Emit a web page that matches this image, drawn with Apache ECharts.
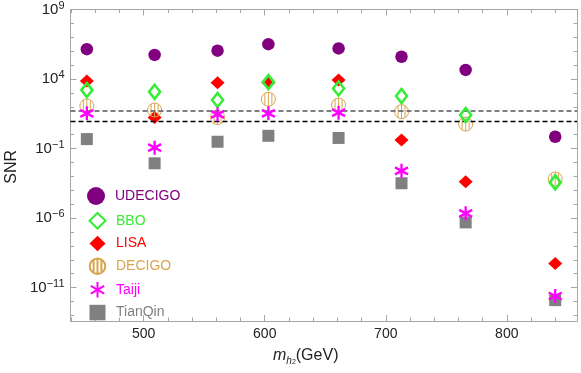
<!DOCTYPE html>
<html><head><meta charset="utf-8">
<script src="https://cdn.jsdelivr.net/npm/echarts@6/dist/echarts.min.js"></script>
<style>html,body{margin:0;padding:0;background:#fff}#c{width:581px;height:373px}</style>
</head><body><div id="c"></div>
<script>
// ---- data ----
const masses = [453, 509, 561, 603, 661, 713, 766, 840];
const UDECIGO = [1.4e6, 5.4e5, 1.1e6, 3.2e6, 1.6e6, 4.0e5, 4.5e4, 0.71];
const BBO     = [1.6e3, 1.2e3, 310, 6.0e3, 2.1e3, 600, 26, 3.7e-4];
const LISA    = [7.2e3, 17, 5.4e3, 5.4e3, 8.5e3, 0.41, 4.1e-4, 5.5e-10];
const DECIGO  = [115, 59, 17, 350, 135, 45, 5.8, 6.5e-4];
const Taiji   = [34, 0.115, 29, 34, 38, 2.5e-3, 2.2e-6, 2.5e-12];
const TianQin = [0.48, 8.7e-3, 0.31, 0.83, 0.58, 3.2e-4, 4.9e-7, 1.26e-12];
const thresholds = [50, 10];
const xTickLabels = [500, 600, 700, 800];
const yTickLabels = [1e-11, 1e-6, 1e-1, 1e4, 1e9];

const xMinor = [];
for (let v = 440; v <= 850; v += 20) if (xTickLabels.indexOf(v) < 0) xMinor.push(v);
const yMinor = [];
for (let e = -13; e <= 8; e++) if ([-11, -6, -1, 4, 9].indexOf(e) < 0) yMinor.push(Math.pow(10, e));

const frame = '#a6a6a6';
const C = {U: '#800080', B: '#33ee33', L: '#ff0000', D: '#d8a54e', T: '#ff00ff', Q: '#808080'};
const pts = arr => masses.map((m, i) => [m, arr[i]]);

const decigoPath = 'path://M0,-1A1,1 0 1,1 0,1A1,1 0 1,1 0,-1Z M-0.5,-0.866L-0.5,0.866 M0,-1L0,1 M0.5,-0.866L0.5,0.866';
const starPath = 'path://M0,-1L0,1M-0.866,-0.5L0.866,0.5M-0.866,0.5L0.866,-0.5';

const xRange = {min: 439.5, max: 858};
const yRange = {min: Math.pow(10, -13.4), max: 1e9};
function xAx(pos, custom, len, labels, line) {
  return Object.assign({type: 'value', position: pos, gridIndex: 0,
    axisLine: {show: line, onZero: false, lineStyle: {color: frame, width: 1}},
    axisTick: {show: true, inside: true, length: len, customValues: custom, lineStyle: {color: frame}},
    axisLabel: labels ? {show: true, customValues: custom, fontSize: 14, color: '#222', margin: 6, fontFamily: 'Liberation Sans'} : {show: false},
    splitLine: {show: false}}, xRange);
}
function yAx(pos, custom, len, labels, line) {
  return Object.assign({type: 'log', logBase: 10, position: pos, gridIndex: 0,
    axisLine: {show: line, onZero: false, lineStyle: {color: frame, width: 1}},
    axisTick: {show: true, inside: true, length: len, customValues: custom, lineStyle: {color: frame}},
    axisLabel: labels ? {show: true, customValues: custom, margin: 6,
      formatter: v => '{b|10}{s|' + String(Math.round(Math.log10(v))).replace('-', '\u2212') + '}',
      rich: {b: {fontSize: 15, color: '#222', fontFamily: 'Liberation Sans', lineHeight: 19},
             s: {fontSize: 11, color: '#222', fontFamily: 'Liberation Sans', verticalAlign: 'top', lineHeight: 11}}} : {show: false},
    splitLine: {show: false}}, yRange);
}

const chart = echarts.init(document.getElementById('c'), null, {renderer: 'canvas'});
const sc = (name, data, symbol, size, style, z) => ({
  name, type: 'scatter', data: pts(data), symbol, symbolSize: size,
  itemStyle: Object.assign({opacity: 1}, style), z: z || 2,
  xAxisIndex: 0, yAxisIndex: 0, emphasis: {disabled: true}, animation: false
});
chart.setOption({
  animation: false,
  grid: {left: 70.5, right: 4, top: 9.5, bottom: 52, containLabel: false},
  xAxis: [xAx('bottom', xTickLabels, 6, true, true), xAx('bottom', xMinor, 3.5, false, false),
          xAx('top', xTickLabels, 6, false, true), xAx('top', xMinor, 3.5, false, false)],
  yAxis: [yAx('left', yTickLabels, 6, true, true), yAx('left', yMinor, 3.5, false, false),
          yAx('right', yTickLabels, 6, false, true), yAx('right', yMinor, 3.5, false, false)],
  legend: [
    {data: [{name: 'UDECIGO', textStyle: {color: C.U}}], orient: 'vertical', left: 87, top: 187, padding: 0,
     itemWidth: 18, itemHeight: 18, textStyle: {fontSize: 14, fontFamily: 'Liberation Sans', padding: [0, 0, 0, 5]}, selectedMode: false},
    {data: [{name: 'BBO', textStyle: {color: C.B}}, {name: 'LISA', textStyle: {color: C.L}},
            {name: 'DECIGO', textStyle: {color: C.D}}, {name: 'Taiji', textStyle: {color: C.T}},
            {name: 'TianQin', textStyle: {color: C.Q}}],
     orient: 'vertical', left: 88.5, top: 212, itemGap: 6.2, padding: 0,
     itemWidth: 16, itemHeight: 15.5, textStyle: {fontSize: 14, fontFamily: 'Liberation Sans', padding: [0, 0, 0, 5.5]}, selectedMode: false}
  ],
  graphic: [
    {type: 'text', left: 4, top: 150, rotation: Math.PI / 2, style: {text: 'SNR', fontSize: 16, fill: '#222', fontFamily: 'Liberation Sans'}},
    {type: 'text', left: 273, top: 348, style: {
      text: '{i|m}{h|h}{t|2}{n|(GeV)}',
      rich: {i: {fontSize: 16, fontStyle: 'italic', fontFamily: 'Liberation Sans', fill: '#222', lineHeight: 20},
             h: {fontSize: 10, fontStyle: 'italic', fontFamily: 'Liberation Sans', fill: '#222', verticalAlign: 'bottom', lineHeight: 14},
             t: {fontSize: 7, fontFamily: 'Liberation Sans', fill: '#222', verticalAlign: 'bottom', lineHeight: 10},
             n: {fontSize: 16, fontFamily: 'Liberation Sans', fill: '#222', lineHeight: 20}}}}
  ],
  series: [
    Object.assign(sc('UDECIGO', UDECIGO, 'circle', 12.5, {color: C.U}, 2), {
      markLine: {silent: true, symbol: 'none', label: {show: false}, animation: false,
        data: [{yAxis: thresholds[0], lineStyle: {color: '#555', type: [5, 3], width: 1.5}},
               {yAxis: thresholds[1], lineStyle: {color: '#000', type: [5, 3], width: 1.3}}]}}),
    sc('LISA', LISA, 'diamond', [14, 13], {color: C.L}, 3),
    sc('DECIGO', DECIGO, decigoPath, 14, {color: 'rgba(255,255,255,0)', borderColor: C.D, borderWidth: 1}, 4),
    sc('BBO', BBO, 'diamond', [11, 14], {color: 'rgba(255,255,255,0)', borderColor: C.B, borderWidth: 2.6}, 5),
    sc('TianQin', TianQin, 'rect', 12, {color: C.Q}, 6),
    sc('Taiji', Taiji, starPath, [13, 14], {color: 'rgba(255,255,255,0)', borderColor: C.T, borderWidth: 2.4}, 7)
  ]
});
</script></body></html>
